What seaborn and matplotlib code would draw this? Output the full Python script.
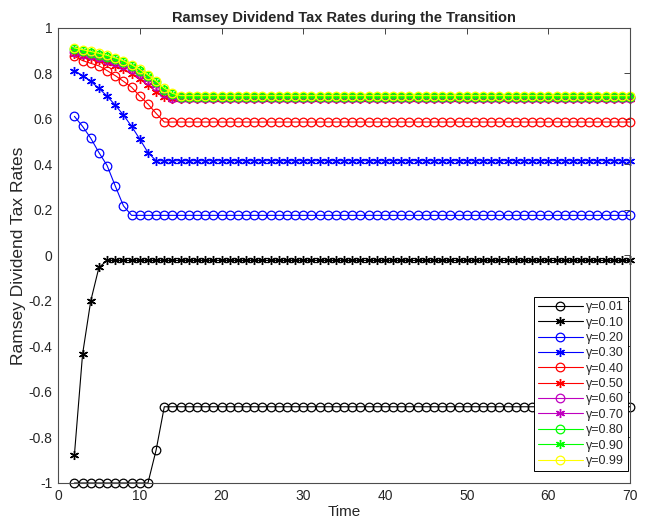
import numpy as np
import pandas as pd
import matplotlib
matplotlib.use("Agg")
import matplotlib.pyplot as plt
import seaborn as sns

# Time periods of the transition
time = list(range(2, 71))
n = len(time)


def path(head, tail):
    """Transition values followed by the constant steady-state value."""
    return list(head) + [tail] * (n - len(head))


gammas = ["0.01", "0.10", "0.20", "0.30", "0.40", "0.50",
          "0.60", "0.70", "0.80", "0.90", "0.99"]

tax_g001 = path([-1.0] * 10 + [-0.855], -0.665)
tax_g010 = path([-0.877, -0.434, -0.200, -0.053], -0.022)
tax_g020 = path([0.611, 0.567, 0.515, 0.452, 0.395, 0.305, 0.218], 0.176)
tax_g030 = path([0.812, 0.790, 0.765, 0.734, 0.700, 0.660, 0.617,
                 0.567, 0.511, 0.452], 0.416)
tax_g040 = path([0.875, 0.856, 0.844, 0.833, 0.812, 0.790, 0.765,
                 0.739, 0.700, 0.665, 0.624], 0.586)
tax_g050 = path([0.885, 0.876, 0.867, 0.857, 0.846, 0.833, 0.817,
                 0.797, 0.774, 0.748, 0.720, 0.697], 0.688)
tax_g060 = path([0.895, 0.887, 0.879, 0.870, 0.860, 0.849, 0.835,
                 0.817, 0.796, 0.772, 0.745, 0.715], 0.692)
tax_g070 = path([0.898, 0.890, 0.882, 0.873, 0.863, 0.852, 0.838,
                 0.820, 0.799, 0.775, 0.748, 0.717], 0.694)
tax_g080 = path([0.906, 0.898, 0.890, 0.882, 0.873, 0.862, 0.849,
                 0.832, 0.811, 0.787, 0.760, 0.729, 0.708], 0.697)
tax_g090 = path([0.908, 0.900, 0.892, 0.884, 0.875, 0.864, 0.851,
                 0.834, 0.813, 0.789, 0.762, 0.731, 0.710], 0.699)
tax_g099 = path([0.912, 0.904, 0.896, 0.888, 0.879, 0.868, 0.855,
                 0.838, 0.817, 0.793, 0.766, 0.735, 0.712], 0.702)

series = [tax_g001, tax_g010, tax_g020, tax_g030, tax_g040, tax_g050,
          tax_g060, tax_g070, tax_g080, tax_g090, tax_g099]
colors = ["k", "k", "b", "b", "r", "r", "m", "m", (0, 1, 0), (0, 1, 0), (1, 1, 0)]
markers = ["o", "*", "o", "*", "o", "*", "o", "*", "o", "*", "o"]

x_ticks = [0, 10, 20, 30, 40, 50, 60, 70]
y_ticks = [-1, -0.8, -0.6, -0.4, -0.2, 0, 0.2, 0.4, 0.6, 0.8, 1]
y_tick_labels = ["-1", "-0.8", "-0.6", "-0.4", "-0.2", "0",
                 "0.2", "0.4", "0.6", "0.8", "1"]

sns.set_style("white")
plt.rcParams["font.family"] = ["Liberation Sans", "DejaVu Sans"]

fig = plt.figure(figsize=(6.45, 5.25), dpi=100)
ax = fig.add_axes([0.090, 0.080, 0.887, 0.867])

for g, vals, c, m in zip(gammas, series, colors, markers):
    df = pd.DataFrame({"Time": time, "rate": vals})
    if m == "o":
        mk = dict(marker="o", markersize=6.2, markerfacecolor="none",
                  markeredgecolor=c, markeredgewidth=0.9)
    else:
        mk = dict(marker=(6, 2, 0), markersize=6.5, markeredgecolor=c,
                  markeredgewidth=1.0)
    sns.lineplot(data=df, x="Time", y="rate", ax=ax, color=c, linewidth=0.8,
                 label="\u03b3=" + g, clip_on=False, **mk)

ax.set_xlim(0, 70)
ax.set_ylim(-1, 1)
ax.set_xticks(x_ticks)
ax.set_yticks(y_ticks)
ax.set_yticklabels(y_tick_labels)
ax.tick_params(direction="in", length=4, width=0.6, top=True, right=True,
               labelsize=10, colors="#262626", pad=4)
for sp in ax.spines.values():
    sp.set_color("#4d4d4d")
    sp.set_linewidth(0.8)

ax.set_xlabel("Time", fontsize=11, color="#262626", labelpad=2)
ax.set_ylabel("Ramsey Dividend Tax Rates", fontsize=12.5, color="#262626",
              labelpad=2)
ax.set_title("Ramsey Dividend Tax Rates during the Transition",
             fontsize=10.5, fontweight="bold", pad=4)

leg = ax.legend(loc="lower right", bbox_to_anchor=(0.996, 0.027),
                fontsize=9, frameon=True, fancybox=False,
                edgecolor="black", handlelength=3.6, labelspacing=0.27,
                borderpad=0.3, handletextpad=0.3, borderaxespad=0.0,
                framealpha=1)
leg.get_frame().set_linewidth(0.7)

fig.savefig("out.png", dpi=100)
